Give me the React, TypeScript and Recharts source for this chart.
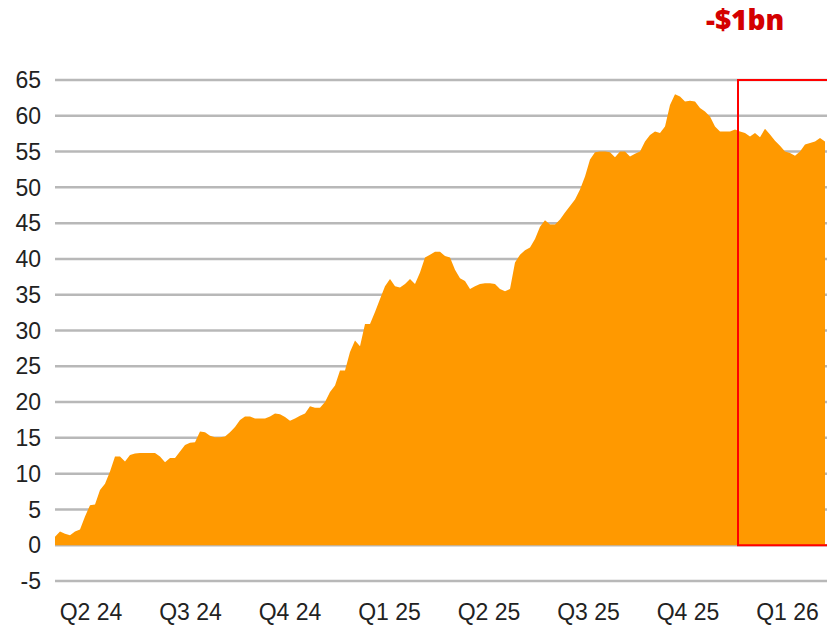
import React from 'react';
import {
  AreaChart,
  Area,
  XAxis,
  YAxis,
  CartesianGrid,
  ReferenceArea,
} from 'recharts';

// cumulative flows at even steps
const flows = [
  1.2, 1.9, 1.6, 1.4, 1.9, 2.2, 4.0, 5.6, 5.7, 7.7,
  8.6, 10.3, 12.4, 12.4, 11.7, 12.6, 12.8, 12.9, 12.9, 12.9,
  12.9, 12.4, 11.6, 12.2, 12.2, 13.1, 14.0, 14.3, 14.4, 15.9,
  15.8, 15.3, 15.1, 15.1, 15.2, 15.8, 16.5, 17.5, 18.0, 18.0,
  17.7, 17.7, 17.7, 18.0, 18.4, 18.3, 17.9, 17.4, 17.7, 18.1,
  18.4, 19.4, 19.2, 19.2, 20.0, 21.4, 22.3, 24.4, 24.4, 27.0,
  28.6, 27.8, 30.9, 30.9, 32.6, 34.4, 36.2, 37.2, 36.2, 36.0,
  36.5, 37.2, 36.5, 38.1, 40.2, 40.6, 41.0, 41.0, 40.4, 40.2,
  38.5, 37.3, 36.9, 35.8, 36.2, 36.5, 36.6, 36.6, 36.5, 35.8,
  35.5, 35.8, 39.5, 40.6, 41.2, 41.6, 42.8, 44.5, 45.4, 44.8,
  44.8, 45.5, 46.5, 47.4, 48.3, 49.7, 51.5, 53.9, 54.9, 55.0,
  55.0, 54.9, 54.2, 55.0, 55.0, 54.3, 54.7, 55.0, 56.4, 57.3,
  57.8, 57.6, 58.5, 61.5, 63.0, 62.7, 62.0, 62.1, 62.0, 61.1,
  60.6, 59.9, 58.5, 57.8, 57.8, 57.8, 58.1, 57.8, 57.6, 57.1,
  57.6, 57.0, 58.2, 57.4, 56.5, 55.8, 55.0, 54.8, 54.4, 55.0,
  56.0, 56.2, 56.4, 56.9, 56.4,
];

const quarters = ['Q2 24', 'Q3 24', 'Q4 24', 'Q1 25', 'Q2 25', 'Q3 25', 'Q4 25', 'Q1 26'];
const yTicks = [-5, 0, 5, 10, 15, 20, 25, 30, 35, 40, 45, 50, 55, 60, 65];

const data = flows.map((v, i) => ({ i, v }));

// quarter label positions in step units
const qStart = 7.2;
const qStep = 19.9;
const quarterTicks = quarters.map((_, k) => qStart + qStep * k);

const highlightFrom = 136.6;

const font = '"Liberation Sans", Arial, sans-serif';

export default function App() {
  return (
    <div style={{ position: 'absolute', left: 0, top: 0, width: 827, height: 628, background: '#fff' }}>
      <div
        style={{
          position: 'absolute',
          left: 706,
          top: 0,
          color: '#D40000',
          fontFamily: '"Open Sans", sans-serif',
          fontWeight: 800,
          fontSize: 28,
          letterSpacing: 0,
        }}
      >
        -$1bn
      </div>
      <AreaChart
        width={827}
        height={628}
        data={data}
        margin={{ top: 80, right: 0, left: 0, bottom: 7 }}
      >
        <CartesianGrid vertical={false} stroke="#b8b8b8" strokeWidth={2.5} />
        <XAxis
          dataKey="i"
          type="number"
          domain={[0, 154.4]}
          allowDataOverflow
          ticks={quarterTicks}
          tickFormatter={(t: number) => quarters[Math.round((t - qStart) / qStep)]}
          axisLine={false}
          tickLine={false}
          tickMargin={17}
          height={40}
          interval={0}
          tick={{ fill: '#222', fontSize: 23, fontFamily: font }}
        />
        <YAxis
          domain={[-5, 65]}
          ticks={yTicks}
          interval={0}
          axisLine={false}
          tickLine={false}
          tickMargin={8}
          width={55}
          tick={{ fill: '#222', fontSize: 23, fontFamily: font }}
        />
        <Area
          type="linear"
          dataKey="v"
          stroke="none"
          fill="#FF9900"
          fillOpacity={1}
          baseValue={0}
          isAnimationActive={false}
        />
        <ReferenceArea
          x1={highlightFrom}
          x2={157}
          y1={0}
          y2={65}
          fill="none"
          stroke="#FF0000"
          strokeWidth={2}
          ifOverflow="visible"
        />
      </AreaChart>
    </div>
  );
}
